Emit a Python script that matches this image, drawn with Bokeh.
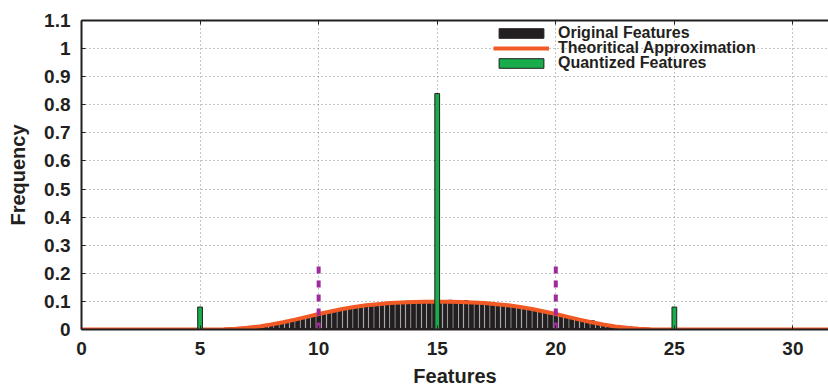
from bokeh.plotting import figure
from bokeh.models import Range1d, LinearAxis, FixedTicker, Legend, LegendItem, ColumnDataSource
from bokeh.embed import file_html
from bokeh.resources import INLINE

# ---------------- data ----------------
hist_start, hist_end, n_bins = 5, 25, 90
hist_values = [
    0.000, 0.000, 0.001, 0.001, 0.001, 0.002, 0.002, 0.003, 0.005, 0.006,
    0.008, 0.010, 0.013, 0.016, 0.020, 0.023, 0.027, 0.031, 0.035, 0.040,
    0.044, 0.048, 0.053, 0.057, 0.060, 0.066, 0.069, 0.073, 0.076, 0.080,
    0.082, 0.085, 0.086, 0.089, 0.092, 0.090, 0.093, 0.094, 0.097, 0.101,
    0.093, 0.096, 0.097, 0.098, 0.100,
    0.097, 0.101, 0.104, 0.096, 0.098, 0.103, 0.094, 0.095, 0.093, 0.094,
    0.089, 0.090, 0.087, 0.079, 0.085, 0.080, 0.077, 0.074, 0.072, 0.064,
    0.061, 0.058, 0.052, 0.049, 0.045, 0.039, 0.036, 0.032, 0.028, 0.031,
    0.020, 0.016, 0.013, 0.010, 0.008, 0.006, 0.004, 0.003, 0.002, 0.001,
    0.001, 0.000, 0.000, 0.000, 0.000,
]

theory_x = [0, 5, 5.5, 6, 6.5, 7, 7.5, 8, 8.5, 9, 9.5, 10, 10.5, 11, 11.5, 12, 12.5,
            13, 13.5, 14, 14.5, 15, 15.5, 16, 16.5, 17, 17.5, 18, 18.5, 19, 19.5,
            20, 20.5, 21, 21.5, 22, 22.5, 23, 23.5, 24, 24.5, 25, 31.5]
theory_y = [0, 0, 0.0003, 0.001, 0.003, 0.006, 0.011, 0.018, 0.026, 0.035, 0.045,
            0.055, 0.064, 0.073, 0.080, 0.086, 0.090, 0.094, 0.096, 0.098, 0.099,
            0.099, 0.099, 0.098, 0.096, 0.094, 0.090, 0.086, 0.080, 0.073, 0.064,
            0.055, 0.045, 0.035, 0.026, 0.018, 0.011, 0.006, 0.003, 0.001, 0.0003,
            0, 0]

quant_x = [5, 15, 25]
quant_y = [0.08, 0.84, 0.08]

threshold_x = [10, 20]
threshold_y = [0.23, 0.23]

x_ticks = [0, 5, 10, 15, 20, 25, 30]
y_ticks = [0, 0.1, 0.2, 0.3, 0.4, 0.5, 0.6, 0.7, 0.8, 0.9, 1, 1.1]
y_tick_labels = ["0", "0.1", "0.2", "0.3", "0.4", "0.5", "0.6", "0.7", "0.8", "0.9", "1", "1.1"]
legend_labels = ["Original Features", "Theoritical Approximation", "Quantized Features"]

# ---------------- style ----------------
DARK = "#231f20"
RED = "#f15a24"
GREEN = "#17ad4a"
PURPLE = "#9e2a9b"
FONT = "Liberation Sans"

bin_w = (hist_end - hist_start) / n_bins
bin_centers = [hist_start + (i + 0.5) * bin_w for i in range(n_bins)]

p = figure(width=828, height=389, output_backend="svg", toolbar_location=None,
           x_range=Range1d(0, 31.5), y_range=Range1d(0, 1.1),
           min_border_left=81, min_border_right=0, min_border_top=20, min_border_bottom=60)
p.outline_line_color = None
p.background_fill_color = "white"

# grid
for g in (p.xgrid, p.ygrid):
    g.grid_line_color = "#8a8a8a"
    g.grid_line_dash = "1 3"
    g.grid_line_width = 1
p.xgrid.ticker = FixedTicker(ticks=x_ticks)
p.ygrid.ticker = FixedTicker(ticks=y_ticks)

# axes
xa = p.xaxis[0]
ya = p.yaxis[0]
xa.ticker = FixedTicker(ticks=x_ticks)
ya.ticker = FixedTicker(ticks=y_ticks)
ya.major_label_overrides = {t: l for t, l in zip(y_ticks, y_tick_labels)}
xa.axis_label = "Features"
ya.axis_label = "Frequency"
for ax in (xa, ya):
    ax.axis_line_color = DARK
    ax.axis_line_width = 2
    ax.major_tick_in = 4
    ax.major_tick_out = 0
    ax.major_tick_line_color = DARK
    ax.minor_tick_line_color = None
    ax.major_label_text_font = FONT
    ax.major_label_text_font_style = "bold"
    ax.major_label_text_font_size = "19px"
    ax.major_label_text_color = DARK
    ax.axis_label_text_font = FONT
    ax.axis_label_text_font_style = "bold"
    ax.axis_label_text_font_size = "20px"
    ax.axis_label_text_color = DARK
xa.major_label_standoff = 12
xa.axis_label_standoff = 7
ya.major_label_standoff = 11
ya.axis_label_standoff = 12

top = LinearAxis(ticker=FixedTicker(ticks=x_ticks),
                 major_label_overrides={t: "" for t in x_ticks},
                 axis_line_color=DARK, axis_line_width=2, major_tick_in=4, major_tick_out=0,
                 major_tick_line_color=DARK, minor_tick_line_color=None,
                 major_label_standoff=0)
p.add_layout(top, "above")

# glyphs
hist_src = ColumnDataSource(dict(x=bin_centers, top=hist_values))
bars = p.vbar(x="x", top="top", width=bin_w * 0.7, source=hist_src,
              fill_color=DARK, line_color=DARK, line_width=1)
base = p.line(x=[hist_start, hist_end], y=[0, 0], line_color=DARK, line_width=3)
curve = p.line(x=theory_x, y=theory_y, line_color=RED, line_width=4)
qbars = p.vbar(x=quant_x, top=quant_y, width=0.2, fill_color=GREEN,
               line_color=DARK, line_width=1)
p.segment(x0=threshold_x, y0=[0] * len(threshold_x), x1=threshold_x, y1=threshold_y,
          line_color=PURPLE, line_width=4, line_dash="7 7")

# legend: one single-item legend per row so rows can sit tightly together
row_bottoms = [287, 272, 257]
for lbl, rend, vy in zip(legend_labels, [bars, curve, qbars], row_bottoms):
    lg = Legend(items=[LegendItem(label=lbl, renderers=[rend])],
                location=(412, vy), border_line_color=None, background_fill_alpha=0,
                glyph_width=56, glyph_height=12, label_height=12, spacing=0,
                padding=4, margin=0, label_standoff=9,
                label_text_font=FONT, label_text_font_style="bold",
                label_text_font_size="16px", label_text_color=DARK)
    p.add_layout(lg, "center")

open("out.html", "w").write(file_html(p, INLINE))
